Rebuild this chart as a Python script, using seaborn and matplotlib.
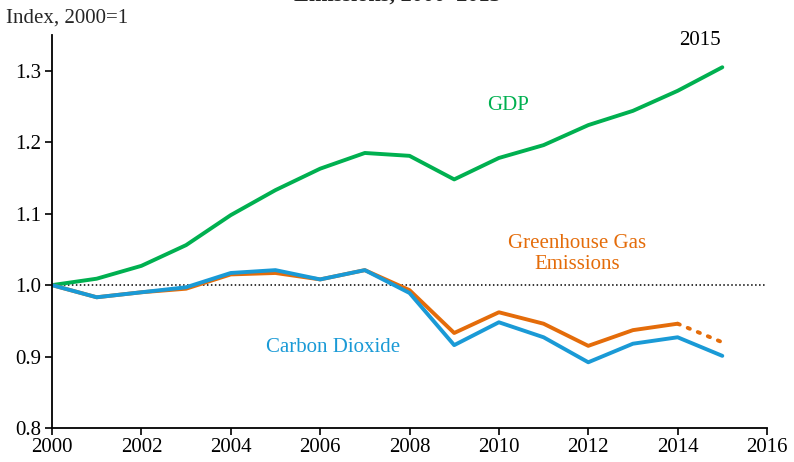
import pandas as pd
import numpy as np
import matplotlib
matplotlib.use("Agg")
import matplotlib.pyplot as plt
import seaborn as sns

years = [2000, 2001, 2002, 2003, 2004, 2005, 2006, 2007,
         2008, 2009, 2010, 2011, 2012, 2013, 2014, 2015]
gdp = [1.000, 1.009, 1.027, 1.056, 1.098, 1.133, 1.163, 1.185,
       1.181, 1.148, 1.178, 1.196, 1.224, 1.244, 1.272, 1.305]
ghg = [1.000, 0.983, 0.990, 0.995, 1.015, 1.017, 1.008, 1.021,
       0.993, 0.933, 0.962, 0.946, 0.915, 0.937, 0.946, 0.920]
co2 = [1.000, 0.983, 0.990, 0.997, 1.017, 1.021, 1.008, 1.021,
       0.989, 0.916, 0.948, 0.927, 0.892, 0.918, 0.927, 0.901]

green = "#00b050"
orange = "#e46c0a"
blue = "#1a9ad6"

sns.set_style("white")
plt.rcParams["font.family"] = ["Liberation Serif", "DejaVu Serif"]

df = pd.DataFrame({"year": years, "gdp": gdp, "ghg": ghg, "co2": co2})

fig = plt.figure(figsize=(7.94, 4.62), dpi=100)
ax = fig.add_axes([0.0655, 0.0736, 0.9005, 0.8504])

ax.axhline(1.0, color="black", lw=1.1, ls=(0, (1, 1.6)), zorder=1)

sns.lineplot(data=df, x="year", y="gdp", color=green, lw=2.8, ax=ax)
sns.lineplot(data=df[df.year <= 2014], x="year", y="ghg", color=orange, lw=2.8, ax=ax)
sns.lineplot(data=df[df.year >= 2014], x="year", y="ghg", color=orange, lw=2.8,
             ls=(0, (0.6, 2.2)), dash_capstyle="round", ax=ax)
sns.lineplot(data=df, x="year", y="co2", color=blue, lw=2.8, ax=ax)

ax.set_xlim(2000, 2016)
ax.set_ylim(0.8, 1.35)
ax.set_xticks(range(2000, 2017, 2))
ax.set_yticks([0.8, 0.9, 1.0, 1.1, 1.2, 1.3])
ax.set_yticklabels(["0.8", "0.9", "1.0", "1.1", "1.2", "1.3"])
ax.set_xlabel("")
ax.set_ylabel("")
for s in ["top", "right"]:
    ax.spines[s].set_visible(False)
for s in ["left", "bottom"]:
    ax.spines[s].set_color("black")
    ax.spines[s].set_linewidth(1.3)
ax.tick_params(axis="both", which="major", direction="out", length=5, width=1.2,
               colors="black", labelsize=15, pad=1)
ax.tick_params(axis="x", bottom=True, pad=2)
ax.tick_params(axis="y", left=True, pad=3)

ax.text(2010.2, 1.252, "GDP", color=green, fontsize=15, ha="center", va="center")
ax.text(2011.75, 1.044, "Greenhouse Gas\nEmissions", color=orange, fontsize=15,
        ha="center", va="center", linespacing=1.15)
ax.text(2006.3, 0.913, "Carbon Dioxide", color=blue, fontsize=15, ha="center", va="center")
ax.text(2014.5, 1.343, "2015", color="black", fontsize=15, ha="center", va="center")

fig.text(0.008, 0.96, "Index, 2000=1", fontsize=15, ha="left", va="center")
fig.text(0.5, 0.998, "Emissions, 2000\u20132015", fontsize=16, fontweight="bold",
         ha="center", va="baseline")

fig.savefig("out.png", dpi=100)
